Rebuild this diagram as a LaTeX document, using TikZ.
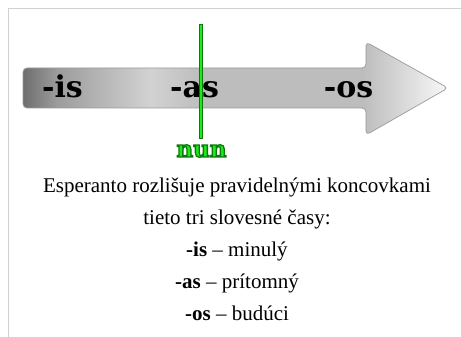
\documentclass[tikz,border=0pt]{standalone}
\usepackage{fontspec}
\setmainfont{Liberation Serif}
\newfontfamily\labelfont{DejaVu Serif}
\definecolor{gA}{HTML}{6E6E6E}
\definecolor{gB}{HTML}{9C9C9C}
\definecolor{gC}{HTML}{D2D2D2}
\definecolor{gD}{HTML}{BDBDBD}
\definecolor{gE}{HTML}{F8F8F8}
\definecolor{frameC}{HTML}{D0D0D0}
\definecolor{arrowEdge}{HTML}{9A9A9A}
\definecolor{nowFill}{HTML}{1EE81E}
\definecolor{nowEdge}{HTML}{0B7A0B}
\pgfdeclarehorizontalshading{arrowshade}{100bp}{color(0bp)=(gA); color(25bp)=(gA); color(29bp)=(gB); color(40bp)=(gC); color(46bp)=(gD); color(65bp)=(gD); color(75bp)=(gE); color(100bp)=(gE)}
\newcommand{\outlinedtext}[1]{\special{pdf:literal direct 0.043 0.478 0.043 RG 1.3 w 2 Tr}#1\special{pdf:literal direct 0 Tr}}
\tikzset{
  tense/.style={font=\labelfont\bfseries\fontsize{30}{30}\selectfont, inner sep=0pt, anchor=base},
  bodyline/.style={font=\fontsize{21}{25}\selectfont, inner sep=0pt, anchor=base},
  nowtext/.style={font=\labelfont\bfseries\fontsize{23}{23}\selectfont, inner sep=0pt, anchor=base, text=nowFill},
}
\begin{document}
\begin{tikzpicture}[x=1pt,y=-1pt]
\useasboundingbox (0,0) rectangle (461,337);
% frame
\draw[frameC, line width=1pt] (461,9) -- (8.5,9) -- (8.5,337);
% arrow
\draw[arrowEdge, line width=0.7pt, shading=arrowshade, rounded corners=4pt]
  (23,68) -- (366,68) -- (366,42) -- (448,88) -- (366,135) -- (366,108) -- (23,108) -- cycle;
% labels
\node[tense] (is) at (62.5,98) {-is};
\node[tense] (as) at (194.5,98) {-as};
\node[tense] (os) at (348.5,98) {-os};
% now line
\coordinate (nowtop) at (201,24);
\coordinate (nowbot) at (201,139);
\draw[nowEdge, line width=3.6pt] (nowtop) -- (nowbot);
\draw[nowFill, line width=2.2pt] ([yshift=-0.7pt]nowtop) -- ([yshift=0.7pt]nowbot);
% nun with outline
\node[nowtext] (nun) at (201.5,157) {\outlinedtext{nun}};
% body text
\node[bodyline] (l1) at (237,192) {Esperanto rozlišuje pravidelnými koncovkami};
\node[bodyline] (l2) at (237,224) {tieto tri slovesné časy:};
\node[bodyline] (l3) at (237,256) {\textbf{-is} – minulý};
\node[bodyline] (l4) at (237,288) {\textbf{-as} – prítomný};
\node[bodyline] (l5) at (237,320) {\textbf{-os} – budúci};
\end{tikzpicture}
\end{document}
